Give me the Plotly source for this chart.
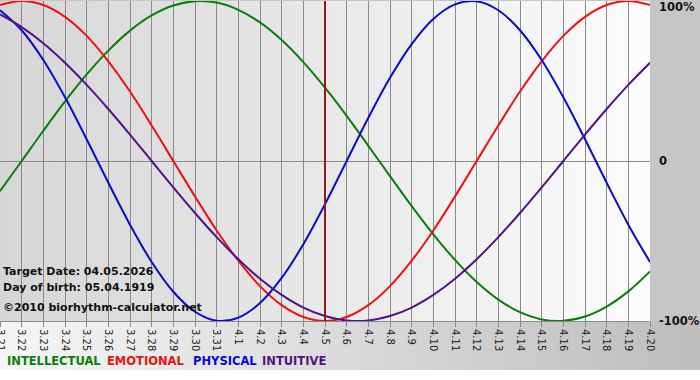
import base64
import plotly.graph_objects as go

# ---- data ----
DAYS = ["3.21", "3.22", "3.23", "3.24", "3.25", "3.26", "3.27", "3.28", "3.29", "3.30", "3.31",
        "4.1", "4.2", "4.3", "4.4", "4.5", "4.6", "4.7", "4.8", "4.9", "4.10",
        "4.11", "4.12", "4.13", "4.14", "4.15", "4.16", "4.17", "4.18", "4.19", "4.20"]

INTELLECTUAL = [-0.189, 0.0, 0.189, 0.372, 0.541, 0.690, 0.815, 0.910, 0.972, 0.999, 0.990,
                0.945, 0.866, 0.756, 0.618, 0.458, 0.282, 0.095, -0.095, -0.282, -0.458,
                -0.618, -0.756, -0.866, -0.945, -0.990, -0.999, -0.972, -0.910, -0.815, -0.690]
EMOTIONAL = [0.975, 1.0, 0.975, 0.901, 0.782, 0.623, 0.434, 0.222, 0.0, -0.222, -0.434,
             -0.623, -0.782, -0.901, -0.975, -1.0, -0.975, -0.901, -0.782, -0.623, -0.434,
             -0.222, 0.0, 0.222, 0.434, 0.623, 0.782, 0.901, 0.975, 1.0, 0.975]
PHYSICAL = [0.942, 0.817, 0.631, 0.398, 0.136, -0.136, -0.398, -0.631, -0.817, -0.942, -0.998,
            -0.979, -0.888, -0.731, -0.520, -0.270, 0.0, 0.270, 0.520, 0.731, 0.888,
            0.979, 0.998, 0.942, 0.817, 0.631, 0.398, 0.136, -0.136, -0.398, -0.631]
INTUITIVE = [0.916, 0.837, 0.736, 0.614, 0.476, 0.325, 0.165, 0.0, -0.165, -0.325, -0.476,
             -0.614, -0.736, -0.837, -0.916, -0.969, -0.997, -0.997, -0.969, -0.916, -0.837,
             -0.736, -0.614, -0.476, -0.325, -0.165, 0.0, 0.165, 0.325, 0.476, 0.614]

TARGET_DAY = "4.5"
Y_LABELS = ["100%", "0", "-100%"]
Y_LABEL_VALUES = [1, 0, -1]
INFO_LINES = ["Target Date: 04.05.2026", "Day of birth: 05.04.1919"]
COPYRIGHT = "©2010 biorhythm-calculator.net"
SERIES = [
    ("INTELLECTUAL", INTELLECTUAL, "#0b7d0b"),
    ("EMOTIONAL", EMOTIONAL, "#ee1111"),
    ("PHYSICAL", PHYSICAL, "#0a0acc"),
    ("INTUITIVE", INTUITIVE, "#4f1485"),
]

W, H = 700, 380
ML, MR, MT, MB = 0, 50, 1, 59
PW, PH = W - ML - MR, H - MT - MB
FONT = "DejaVu Sans"


def svg_uri(svg):
    return "data:image/svg+xml;base64," + base64.b64encode(svg.encode()).decode()


plot_bg = svg_uri(
    '<svg xmlns="http://www.w3.org/2000/svg" width="650" height="320" preserveAspectRatio="none">'
    '<defs><linearGradient id="g" x1="0" y1="0" x2="1" y2="0">'
    '<stop offset="0" stop-color="#d6d6d6"/><stop offset="1" stop-color="#fcfcfc"/>'
    '</linearGradient></defs><rect width="650" height="320" fill="url(#g)"/></svg>')

paper_bg = svg_uri(
    '<svg xmlns="http://www.w3.org/2000/svg" width="700" height="380" preserveAspectRatio="none">'
    '<defs><linearGradient id="b" x1="0" y1="0" x2="1" y2="0">'
    '<stop offset="0" stop-color="#f6f6f6"/><stop offset="1" stop-color="#bdbdbd"/>'
    '</linearGradient></defs>'
    '<rect width="700" height="380" fill="#ffffff"/>'
    '<rect x="0" y="0" width="700" height="322" fill="#c6c6c6"/>'
    '<rect x="0" y="321" width="700" height="49" fill="url(#b)"/></svg>')

fig = go.Figure()

for name, vals, color in SERIES:
    fig.add_trace(go.Scatter(x=DAYS, y=vals, mode="lines", name=name,
                             line=dict(color=color, width=2, shape="spline", smoothing=1.0),
                             hoverinfo="skip", cliponaxis=True))

fig.add_trace(go.Scatter(x=[TARGET_DAY, TARGET_DAY], y=[-1, 1], mode="lines",
                         line=dict(color="#8c1c1c", width=2), hoverinfo="skip"))

annotations = []
# right-hand y labels
for lab, v in zip(Y_LABELS, Y_LABEL_VALUES):
    yv = v
    if v == 1:
        yv = 0.965
    annotations.append(dict(x=1 + 7 / PW, y=yv, xref="paper", yref="y", text=lab,
                            showarrow=False, xanchor="left", yanchor="middle",
                            font=dict(family=FONT, size=11.5, color="#111111", weight="bold")))

# info text
info_y = [271, 287]
for txt, py in zip(INFO_LINES, info_y):
    annotations.append(dict(x=1 / PW, y=(MT + PH - py) / PH, xref="paper", yref="paper",
                            text=txt, showarrow=False, xanchor="left", yanchor="middle",
                            font=dict(family=FONT, size=11, color="#111111", weight="bold")))
annotations.append(dict(x=1 / PW, y=(MT + PH - 307) / PH, xref="paper", yref="paper",
                        text=COPYRIGHT, showarrow=False, xanchor="left", yanchor="middle",
                        font=dict(family=FONT, size=11, color="#111111", weight="bold")))

# legend texts
legend_x = [5, 105, 191, 260]
for (name, _, color), px in zip(SERIES, legend_x):
    annotations.append(dict(x=px / PW, y=(MT + PH - 361) / PH, xref="paper", yref="paper",
                            text=name, showarrow=False, xanchor="left", yanchor="middle",
                            font=dict(family=FONT, size=11.5, color=color, weight="bold")))

fig.update_layout(
    width=W, height=H,
    margin=dict(l=ML, r=MR, t=MT, b=MB, pad=0, autoexpand=False),
    paper_bgcolor="#ffffff",
    plot_bgcolor="rgba(0,0,0,0)",
    showlegend=False,
    annotations=annotations,
    images=[
        dict(source=paper_bg, xref="paper", yref="paper", x=0, y=1 + MT / PH,
             sizex=W / PW, sizey=H / PH, sizing="stretch", xanchor="left", yanchor="top",
             layer="below"),
        dict(source=plot_bg, xref="paper", yref="paper", x=0, y=1,
             sizex=1, sizey=1, sizing="stretch", xanchor="left", yanchor="top",
             layer="below"),
    ],
    xaxis=dict(type="category", range=[0, 30], showgrid=True, gridcolor="#8a8a8a",
               gridwidth=1, showline=True, linecolor="#8a8a8a", linewidth=1,
               ticks="outside", ticklen=5, tickcolor="#8a8a8a", tickangle=90,
               tickfont=dict(family=FONT, size=10, color="#222222"),
               zeroline=False, fixedrange=True, automargin=False),
    yaxis=dict(range=[-1.0, 1.0], showgrid=False, zeroline=True, zerolinecolor="#8a8a8a",
               zerolinewidth=1, showticklabels=False, ticks="", showline=False,
               fixedrange=True, automargin=False),
)

fig.write_html("out.html", config={"displayModeBar": False},
               post_script="document.body.style.margin='0';document.body.style.padding='0';"
                           "document.body.style.overflow='hidden';")
